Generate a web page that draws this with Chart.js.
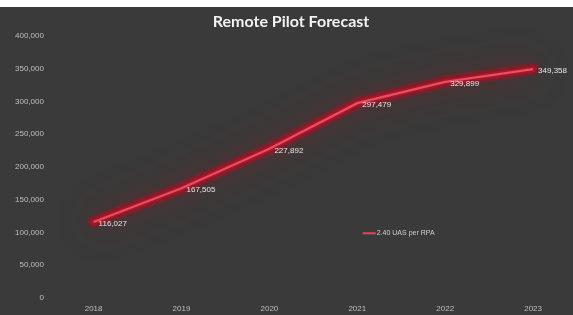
<!DOCTYPE html>
<html>
<head>
<meta charset="utf-8">
<script src="https://cdn.jsdelivr.net/npm/chart.js@4"></script>
<style>
  html, body { margin: 0; padding: 0; background: #ffffff; overflow: hidden; }
  #wrap { position: absolute; left: 0; top: 7px; width: 573px; height: 308px; background: #3a3a3a; }
</style>
</head>
<body>
<div id="wrap"><canvas id="pilotChart" width="573" height="308"></canvas></div>
<script>
const years = [2018, 2019, 2020, 2021, 2022, 2023];
const pilots = [116027, 167505, 227892, 297479, 329899, 349358];
const seriesName = '2.40 UAS per RPA';
const chartTitle = 'Remote Pilot Forecast';
const yTicks = [0, 50000, 100000, 150000, 200000, 250000, 300000, 350000, 400000];

// red glow around the line, drawn as a few blurred passes underneath
const glow = {
    id: 'glow',
    beforeDatasetDraw(chart) {
        const ctx = chart.ctx;
        const pts = chart.getDatasetMeta(0).data;
        ctx.save();
        ctx.lineJoin = 'round';
        ctx.lineCap = 'round';
        [[36, 'rgba(180, 10, 30, 0.5)', 12], [18, 'rgba(200, 20, 40, 0.5)', 6]].forEach(([blur, col, w]) => {
            ctx.shadowColor = col;
            ctx.shadowBlur = blur;
            ctx.strokeStyle = col;
            ctx.lineWidth = w;
            ctx.beginPath();
            pts.forEach((p, i) => i ? ctx.lineTo(p.x, p.y) : ctx.moveTo(p.x, p.y));
            ctx.stroke();
        });
        ctx.restore();
    }
};

// title, value labels and the little legend inside the plot
const labels = {
    id: 'labels',
    afterDatasetsDraw(chart) {
        const ctx = chart.ctx;
        const meta = chart.getDatasetMeta(0);
        ctx.save();
        ctx.textBaseline = 'middle';

        ctx.font = 'bold 16px Lato, sans-serif';
        ctx.fillStyle = '#f2f2f2';
        ctx.textAlign = 'center';
        ctx.fillText(chartTitle, 291, 15);

        ctx.font = '8px "Liberation Sans", sans-serif';
        ctx.fillStyle = '#e6e6e6';
        ctx.textAlign = 'left';
        meta.data.forEach((pt, i) => {
            ctx.fillText(pilots[i].toLocaleString('en-US'), pt.x + 5, pt.y + 2);
        });

        const area = chart.chartArea;
        const lx = area.left + (area.right - area.left) * 0.603;
        const ly = area.top + (area.bottom - area.top) * 0.753;
        ctx.strokeStyle = '#e8455a';
        ctx.lineWidth = 2;
        ctx.beginPath();
        ctx.moveTo(lx, ly);
        ctx.lineTo(lx + 13, ly);
        ctx.stroke();
        ctx.font = '7px "Liberation Sans", sans-serif';
        ctx.fillStyle = '#d0d0d0';
        ctx.fillText(chart.data.datasets[0].label, lx + 14, ly);
        ctx.restore();
    }
};

new Chart(document.getElementById('pilotChart'), {
    type: 'line',
    data: {
        datasets: [{
            label: seriesName,
            data: years.map((yr, i) => ({ x: yr, y: pilots[i] })),
            borderColor: '#ea4c64',
            borderWidth: 2.2,
            pointRadius: 0,
            tension: 0,
            fill: false
        }]
    },
    plugins: [glow, labels],
    options: {
        responsive: false,
        animation: false,
        layout: { padding: { top: 29, right: 3, bottom: 0, left: 11 } },
        plugins: {
            legend: { display: false },
            tooltip: { enabled: false },
            title: { display: false }
        },
        scales: {
            x: {
                type: 'linear',
                min: 2017.48,
                max: 2023.42,
                afterBuildTicks: scale => { scale.ticks = years.map(v => ({ value: v })); },
                afterFit: scale => { scale.height = 17; },
                grid: { display: false, drawTicks: false },
                border: { display: false },
                ticks: {
                    color: '#bfbfbf',
                    font: { family: 'Liberation Sans', size: 8 },
                    padding: 6,
                    maxRotation: 0,
                    callback: v => String(v)
                }
            },
            y: {
                min: 0,
                max: 400000,
                afterBuildTicks: scale => { scale.ticks = yTicks.map(v => ({ value: v })); },
                grid: { display: false, drawTicks: false },
                border: { display: false },
                ticks: {
                    color: '#bfbfbf',
                    font: { family: 'Liberation Sans', size: 8 },
                    padding: 4,
                    callback: v => v.toLocaleString('en-US')
                }
            }
        }
    }
});
</script>
</body>
</html>
